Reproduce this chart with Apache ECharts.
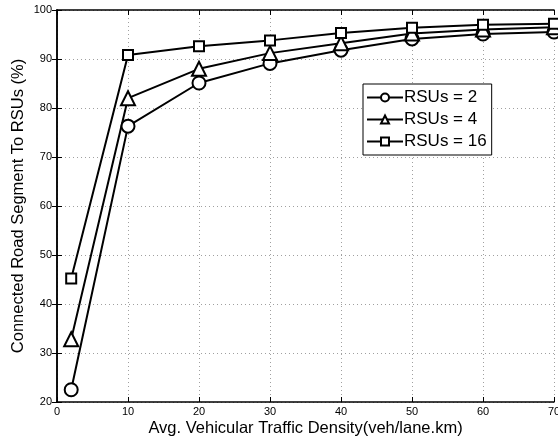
<!DOCTYPE html>
<html><head><meta charset="utf-8">
<script src="https://cdn.jsdelivr.net/npm/echarts@6/dist/echarts.min.js"></script>
<style>html,body{margin:0;padding:0;background:#fff}#c{width:558px;height:443px}</style>
</head><body><div id="c"></div>
<script>
const density = [2, 10, 20, 30, 40, 50, 60, 70];
const rsu2 = [22.5, 76.3, 85.1, 89.1, 91.8, 94.1, 95.1, 95.5];
const rsu4 = [32.8, 82.0, 88.0, 91.2, 93.2, 95.2, 96.0, 96.5];
const rsu16 = [45.2, 90.8, 92.6, 93.8, 95.3, 96.4, 97.0, 97.2];
const seriesNames = ['RSUs = 2', 'RSUs = 4', 'RSUs = 16'];
const xTicks = [0, 10, 20, 30, 40, 50, 60, 70];
const yTicks = [20, 30, 40, 50, 60, 70, 80, 90, 100];

const font = 'Liberation Sans, Arial, Helvetica, sans-serif';
const chart = echarts.init(document.getElementById('c'));
function mk(name, data, symbol, size) {
  return {
    name: name, type: 'line', data: density.map((x, i) => [x, data[i]]),
    symbol: symbol, symbolSize: size, showSymbol: true,
    lineStyle: { color: '#000', width: 2 },
    itemStyle: { color: '#000', borderColor: '#000', borderWidth: 2 },
    emphasis: { disabled: true }, animation: false, z: 3
  };
}
const gridLine = { show: true, lineStyle: { color: '#a0a0a0', type: [1, 3], width: 1 } };
chart.setOption({
  animation: false,
  backgroundColor: '#fff',
  grid: { left: 57, right: 4, top: 10, bottom: 41, containLabel: false, outerBoundsMode: 'none' },
  xAxis: [{
    type: 'value', min: xTicks[0], max: xTicks[xTicks.length - 1], interval: 10,
    name: 'Avg. Vehicular Traffic Density(veh/lane.km)', nameLocation: 'middle', nameGap: 18,
    nameMoveOverlap: false,
    nameTextStyle: { fontFamily: font, fontSize: 16.5, color: '#000' },
    axisLine: { lineStyle: { color: '#000', width: 1.5 } },
    axisTick: { inside: true, length: 5, lineStyle: { color: '#000' } },
    axisLabel: { fontFamily: font, fontSize: 11, color: '#000', margin: 4 },
    splitLine: gridLine
  }, {
    type: 'value', position: 'top', min: 0, max: 70, interval: 10,
    axisLine: { show: true, lineStyle: { color: '#000', width: 1.5 } },
    axisTick: { inside: true, length: 5, lineStyle: { color: '#000' } },
    axisLabel: { show: false }, splitLine: { show: false }
  }],
  yAxis: [{
    type: 'value', min: yTicks[0], max: yTicks[yTicks.length - 1], interval: 10,
    name: 'Connected Road Segment To RSUs (%)', nameLocation: 'middle', nameGap: 30,
    nameMoveOverlap: false,
    nameTextStyle: { fontFamily: font, fontSize: 16.5, color: '#000' },
    axisLine: { show: true, lineStyle: { color: '#000', width: 1.5 } },
    axisTick: { show: true, inside: true, length: 5, lineStyle: { color: '#000' } },
    axisLabel: { fontFamily: font, fontSize: 11, color: '#000', margin: 5 },
    splitLine: gridLine
  }, {
    type: 'value', position: 'right', min: 20, max: 100, interval: 10,
    axisLine: { show: true, lineStyle: { color: '#000', width: 1.5 } },
    axisTick: { show: true, inside: true, length: 5, lineStyle: { color: '#000' } },
    axisLabel: { show: false }, splitLine: { show: false }
  }],
  legend: {
    left: 363, top: 84, orient: 'vertical', itemGap: 5, itemWidth: 36, itemHeight: 10,
    padding: [5, 5, 5, 3],
    backgroundColor: '#fff', borderColor: '#000', borderWidth: 1,
    textStyle: { fontFamily: font, fontSize: 17, color: '#000', padding: [0, 0, 0, -4] },
    data: seriesNames
  },
  series: [
    mk(seriesNames[0], rsu2, 'emptyCircle', 13),
    mk(seriesNames[1], rsu4, 'emptyTriangle', 14),
    mk(seriesNames[2], rsu16, 'emptyRect', 10)
  ]
});
</script></body></html>
